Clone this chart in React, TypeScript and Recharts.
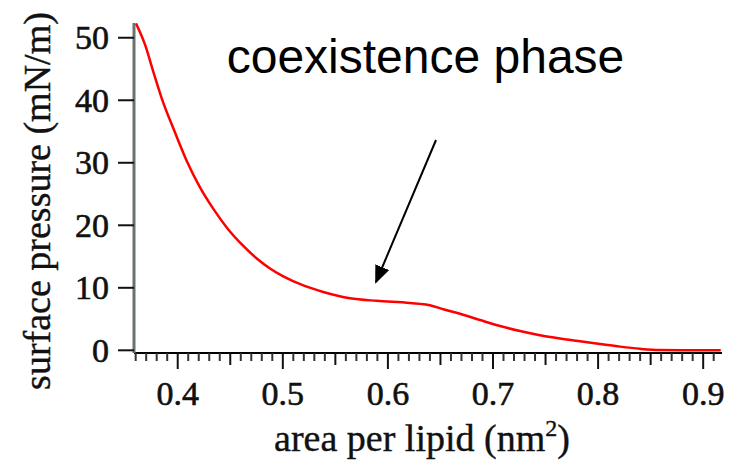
import React from "react";
import { LineChart, Line, XAxis, YAxis } from "recharts";

// area per lipid (nm^2)
const areaValues = [
  0.3603, 0.3689, 0.3768, 0.3863, 0.3958, 0.4086, 0.4212, 0.4339, 0.4466, 0.4624,
  0.4752, 0.4878, 0.5005, 0.5195, 0.5385, 0.5639, 0.5893, 0.621, 0.64, 0.6527,
  0.6686, 0.6876, 0.7067, 0.7257, 0.7447, 0.7638, 0.7828, 0.8018, 0.8208, 0.8399,
  0.8589, 0.878, 0.8967, 0.9167,
];
// surface pressure (mN/m)
const pressureValues = [
  52.3, 48.89, 44.56, 39.58, 35.52, 30.3, 26.07, 22.63, 19.66, 16.7,
  14.7, 13.1, 11.82, 10.38, 9.34, 8.33, 7.91, 7.57, 7.22, 6.57,
  5.84, 4.85, 3.89, 3.09, 2.42, 1.89, 1.44, 1.01, 0.59, 0.24,
  0.03, 0.0, 0.0, 0.0,
];
const xMajorTicks = [0.4, 0.5, 0.6, 0.7, 0.8, 0.9];
const xTickLabels = ["0.4", "0.5", "0.6", "0.7", "0.8", "0.9"];
const yTicks = [0, 10, 20, 30, 40, 50];
const yTickLabels = ["0", "10", "20", "30", "40", "50"];

const data = areaValues.map((a, i) => ({ area: a, pressure: pressureValues[i] }));
const xMinorTicks: number[] = [];
for (let k = 36; k <= 91; k++) xMinorTicks.push(k / 100);

const SERIF = "'Liberation Serif', 'Times New Roman', serif";
const SANS = "'Liberation Sans', Arial, sans-serif";

const XTick = (props: any) => {
  const { x, y, payload } = props;
  const k = Math.round(payload.value * 100);
  const major = k % 10 === 0;
  const medium = !major && k % 5 === 0;
  const len = major ? 16 : medium ? 12 : 8;
  const idx = xMajorTicks.findIndex((t) => Math.abs(t - payload.value) < 1e-6);
  return (
    <g>
      <line x1={x} x2={x} y1={y} y2={y + len} stroke={major || medium ? "#111" : "#333"} strokeWidth={2} />
      {idx >= 0 && (
        <text
          x={x}
          y={y + 52}
          textAnchor="middle"
          fontFamily={SERIF}
          fontSize={34}
          fill="#111"
          stroke="#111"
          strokeWidth={0.6}
        >
          {xTickLabels[idx]}
        </text>
      )}
    </g>
  );
};

const YTick = (props: any) => {
  const { y, payload } = props;
  const idx = yTicks.indexOf(payload.value);
  return (
    <text
      x={109}
      y={y + 11.5}
      textAnchor="end"
      fontFamily={SERIF}
      fontSize={34}
      fill="#111"
      stroke="#111"
      strokeWidth={0.6}
    >
      {idx >= 0 ? yTickLabels[idx] : ""}
    </text>
  );
};

export default function App() {
  return (
    <div style={{ position: "absolute", left: 0, top: 0, width: 741, height: 463, background: "#fff" }}>
      <LineChart
        width={741}
        height={463}
        data={data}
        margin={{ top: 23, right: 19, left: 0, bottom: 0 }}
      >
        <XAxis
          dataKey="area"
          type="number"
          domain={[0.3584, 0.9179]}
          ticks={xMinorTicks}
          interval={0}
          allowDataOverflow
          height={110}
          tickSize={0}
          tickMargin={0}
          tickLine={false}
          tick={<XTick />}
          axisLine={{ stroke: "#000", strokeWidth: 2 }}
          label={{
            content: () => (
              <text
                x={422}
                y={451}
                textAnchor="middle"
                fontFamily={SERIF}
                fontSize={38}
                fill="#111"
                stroke="#111"
                strokeWidth={0.4}
              >
                area per lipid (nm
                <tspan dy={-15} fontSize={24}>2</tspan>
                <tspan dy={15}>)</tspan>
              </text>
            ),
          }}
        />
        <YAxis
          type="number"
          domain={[-0.43, 52.36]}
          ticks={yTicks}
          interval={0}
          allowDataOverflow
          width={134}
          tickSize={16}
          tickMargin={0}
          tickLine={{ stroke: "#111", strokeWidth: 2 }}
          tick={<YTick />}
          axisLine={{ stroke: "#66736f", strokeWidth: 3 }}
          label={{
            content: () => (
              <text
                transform="translate(50,201) rotate(-90)"
                textAnchor="middle"
                fontFamily={SERIF}
                fontSize={38}
                fill="#111"
                stroke="#111"
                strokeWidth={0.4}
              >
                surface pressure (mN/m)
              </text>
            ),
          }}
        />
        <Line
          type="monotone"
          dataKey="pressure"
          stroke="#ff0000"
          strokeWidth={2.5}
          dot={false}
          isAnimationActive={false}
        />
      </LineChart>
      <svg
        width={741}
        height={463}
        style={{ position: "absolute", left: 0, top: 0, pointerEvents: "none" }}
      >
        <defs>
          <marker id="arrowhead" markerWidth="9" markerHeight="7.5" refX="8" refY="3.75" orient="auto" markerUnits="strokeWidth">
            <polygon points="0 0, 9 3.75, 0 7.5" fill="#000" />
          </marker>
        </defs>
        <text x={425.5} y={73} textAnchor="middle" fontFamily={SANS} fontSize={48} fill="#000">
          coexistence phase
        </text>
        <line x1={436} y1={140} x2={376} y2={282} stroke="#000" strokeWidth={2} markerEnd="url(#arrowhead)" />
      </svg>
    </div>
  );
}
